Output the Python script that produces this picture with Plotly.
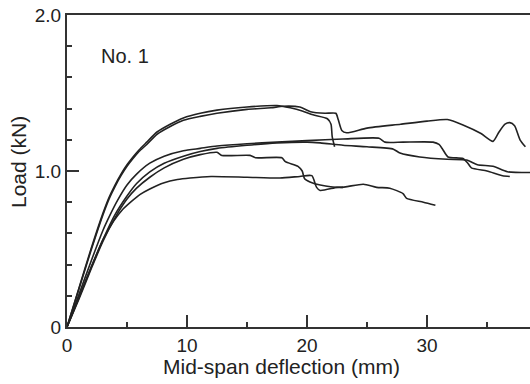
import plotly.graph_objects as go

# Data (mid-span deflection in mm, load in kN)
u1_x = [0, 1.0, 2.0, 3.0, 3.5, 4.0, 4.5, 5.0, 5.5, 6.0, 6.65, 7.5, 8.6, 9.7, 11.1, 12.5, 15.0, 17.5, 18.6, 19.6, 20.5, 21.7, 22.0, 22.1, 22.3]
u1_y = [0, 0.25, 0.50, 0.73, 0.83, 0.91, 0.98, 1.04, 1.09, 1.135, 1.185, 1.25, 1.30, 1.34, 1.37, 1.39, 1.41, 1.42, 1.405, 1.385, 1.36, 1.335, 1.30, 1.22, 1.155]

u2_x = [0, 1.0, 2.0, 3.0, 3.5, 4.0, 4.5, 5.0, 5.5, 6.0, 6.65, 7.5, 8.6, 9.7, 11.1, 12.5, 15.0, 17.0, 18.0, 19.4, 20.3, 21.5, 22.4, 22.6, 22.9, 23.3, 25.0, 27.8, 30.0, 31.7, 33.0, 34.5, 35.5, 36.0, 36.5, 36.9, 37.3, 37.75, 38.2]
u2_y = [0, 0.245, 0.49, 0.72, 0.82, 0.90, 0.97, 1.03, 1.08, 1.125, 1.17, 1.235, 1.285, 1.325, 1.35, 1.37, 1.395, 1.405, 1.415, 1.41, 1.38, 1.37, 1.37, 1.33, 1.26, 1.245, 1.275, 1.30, 1.32, 1.33, 1.295, 1.24, 1.19, 1.25, 1.30, 1.31, 1.29, 1.20, 1.155]

m1_x = [0, 1.0, 2.0, 3.0, 3.6, 4.2, 5.0, 5.8, 6.9, 8.1, 9.7, 11.1, 12.5, 15.0, 17.5, 20.0, 23.0, 26.0, 26.5, 28.0, 30.5, 31.0, 31.3, 31.75, 33.0, 33.4, 33.7, 35.0, 36.3, 36.9]
m1_y = [0, 0.21, 0.42, 0.62, 0.72, 0.81, 0.91, 0.98, 1.05, 1.095, 1.13, 1.145, 1.16, 1.175, 1.185, 1.195, 1.205, 1.21, 1.185, 1.185, 1.185, 1.17, 1.14, 1.09, 1.08, 1.05, 1.02, 1.0, 0.97, 0.965]

m2_x = [0, 1.0, 2.0, 3.0, 4.0, 5.0, 5.8, 6.9, 8.1, 9.7, 11.1, 12.5, 15.0, 17.5, 20.0, 21.1, 23.0, 25.0, 27.2, 27.75, 29.4, 31.7, 33.3, 34.2, 35.5, 36.7, 38.6]
m2_y = [0, 0.19, 0.38, 0.56, 0.72, 0.84, 0.92, 0.995, 1.05, 1.095, 1.125, 1.145, 1.165, 1.18, 1.185, 1.18, 1.165, 1.155, 1.14, 1.115, 1.09, 1.075, 1.07, 1.04, 1.03, 0.995, 0.99]

m3_x = [0, 1.0, 2.0, 3.0, 4.0, 5.0, 5.8, 6.9, 8.1, 9.7, 11.1, 12.5, 12.9, 15.25, 15.7, 17.9, 18.2, 19.25, 19.6, 19.8, 20.25, 21.1, 22.75, 24.7, 25.8, 26.9, 28.0, 28.3, 29.7, 30.7]
m3_y = [0, 0.18, 0.37, 0.55, 0.70, 0.82, 0.89, 0.96, 1.02, 1.075, 1.105, 1.12, 1.10, 1.10, 1.085, 1.085, 1.06, 1.03, 1.00, 0.95, 0.93, 0.91, 0.895, 0.915, 0.895, 0.89, 0.855, 0.825, 0.80, 0.78]

l_x = [0, 1.0, 2.0, 3.0, 3.9, 4.6, 5.3, 6.1, 6.9, 8.1, 9.2, 10.25, 12.0, 15.0, 17.75, 19.4, 20.4, 20.8, 21.1, 22.5, 23.0]
l_y = [0, 0.19, 0.38, 0.56, 0.68, 0.75, 0.80, 0.85, 0.885, 0.925, 0.945, 0.955, 0.965, 0.96, 0.955, 0.965, 0.97, 0.895, 0.875, 0.895, 0.895]

series = [(u1_x, u1_y), (u2_x, u2_y), (m1_x, m1_y), (m2_x, m2_y), (m3_x, m3_y), (l_x, l_y)]

y_tickvals = [0, 1.0, 2.0]
y_ticktext = ["0", "1.0", "2.0"]
x_tickvals = [0, 10, 20, 30]
x_ticktext = ["0", "10", "20", "30"]

FONT = "Liberation Sans, Arial, Helvetica, sans-serif"
INK = "#222222"

fig = go.Figure()
for xs, ys in series:
    fig.add_trace(go.Scatter(x=xs, y=ys, mode="lines",
                             line=dict(color=INK, width=1.6, shape="spline", smoothing=0.6),
                             showlegend=False, hoverinfo="skip"))

fig.update_layout(
    width=530, height=384,
    margin=dict(l=67, r=0, t=15, b=57),
    paper_bgcolor="white", plot_bgcolor="white",
    font=dict(family=FONT, color=INK, size=19),
    xaxis=dict(range=[0, 463 / 12], tickvals=x_tickvals, ticktext=x_ticktext,
               ticks="inside", ticklen=12, tickwidth=1.5, tickcolor="#333",
               minor=dict(dtick=5, tick0=0, ticks="inside", ticklen=5, tickwidth=1.5, tickcolor="#333"),
               showline=True, linecolor="#333", linewidth=2, mirror=True,
               showgrid=False, zeroline=False, tickfont=dict(size=19, color=INK)),
    yaxis=dict(range=[0, 2.0], tickvals=y_tickvals, ticktext=y_ticktext,
               ticks="inside", ticklen=12, tickwidth=1.5, tickcolor="#333",
               minor=dict(dtick=0.2, tick0=0, ticks="inside", ticklen=5, tickwidth=1.5, tickcolor="#333"),
               showline=True, linecolor="#333", linewidth=2,
               showgrid=False, zeroline=False, tickfont=dict(size=19, color=INK)),
    annotations=[
        dict(text="No. 1", x=2.67, y=1.74, xref="x", yref="y", xanchor="left", yanchor="middle",
             showarrow=False, font=dict(size=20, color=INK)),
        dict(text="Mid-span deflection (mm)", x=(281.5 - 67) / 463, y=-0.125, xref="paper", yref="paper",
             xanchor="center", yanchor="middle", showarrow=False, font=dict(size=21, color=INK)),
        dict(text="Load (kN)", x=(18 - 67) / 463, y=(327 - 162) / 312, xref="paper", yref="paper",
             xanchor="center", yanchor="middle", textangle=-90, showarrow=False, font=dict(size=21, color=INK)),
    ],
)

fig.write_html("out.html")
